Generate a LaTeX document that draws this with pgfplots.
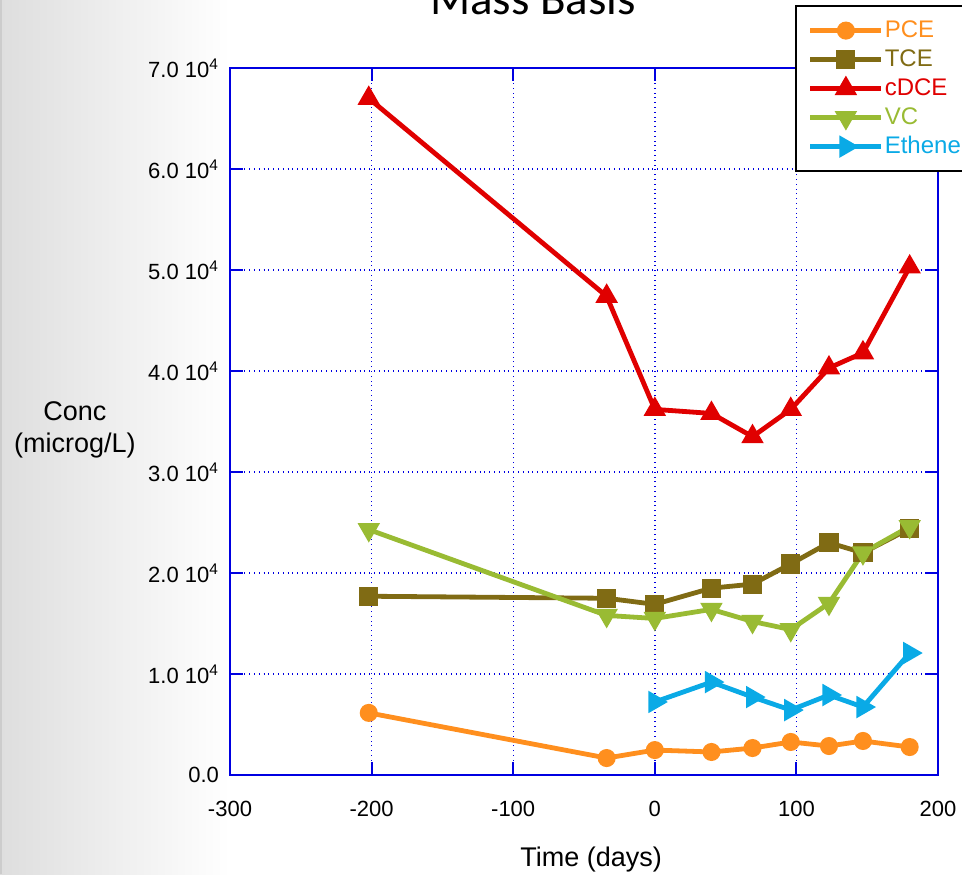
\documentclass[border=0pt]{standalone}
\usepackage{fontspec}
\setmainfont{Liberation Sans}
\newfontfamily\titlefont{Carlito}
\usepackage{pgfplots}
\pgfplotsset{compat=1.18}
\definecolor{cPCE}{RGB}{255,143,30}
\definecolor{cTCE}{RGB}{128,107,20}
\definecolor{cDCE}{RGB}{224,0,0}
\definecolor{cVC}{RGB}{153,187,51}
\definecolor{cEth}{RGB}{10,170,230}
\definecolor{axblue}{RGB}{0,0,225}
\begin{document}
\begin{tikzpicture}
\useasboundingbox (0,0) rectangle (481pt,437pt);
\clip (0,0) rectangle (481pt,437pt);
\shade[left color=black!13, right color=white] (0,0) rectangle (115pt,437pt);
\fill[black!20] (0,0) rectangle (1.2pt,437pt);
\node[font=\titlefont\fontsize{23.5}{26}\selectfont, anchor=base] at (266.5pt,429.5pt) {Mass Basis};
\begin{axis}[
  at={(115pt,49.5pt)}, anchor=south west,
  scale only axis, width=354pt, height=353.5pt,
  xmin=-300, xmax=200, ymin=0, ymax=70000,
  xtick={-300,-200,-100,0,100,200},
  xticklabels={-300,-200,-100,0,100,200},
  ytick={0,10000,20000,30000,40000,50000,60000,70000},
  yticklabels={0.0,1.0 10\textsuperscript{4},2.0 10\textsuperscript{4},3.0 10\textsuperscript{4},4.0 10\textsuperscript{4},5.0 10\textsuperscript{4},6.0 10\textsuperscript{4},7.0 10\textsuperscript{4}},
  scaled y ticks=false,
  grid=major,
  major grid style={axblue, dotted, line width=0.7pt},
  axis line style={axblue, line width=1pt},
  tick style={axblue, line width=1pt},
  major tick length=6.5pt,
  tick align=inside,
  tick pos=both,
  tick label style={font=\fontsize{11}{12}\selectfont},
  xticklabel style={yshift=-9.5pt},
  yticklabel style={xshift=-2pt},
  xlabel={Time (days)},
  xlabel style={font=\fontsize{13.5}{15}\selectfont, at={(axis description cs:0.51,0)}, anchor=base, yshift=-45.5pt},
  ylabel={Conc\\(microg/L)},
  ylabel style={font=\fontsize{13.5}{16}\selectfont, align=center, rotate=-90, at={(axis description cs:-0.219,0.488)}, anchor=center},
  legend style={at={(axis description cs:0.798,1.089)}, anchor=north west, draw=black, line width=1pt, fill=white,
    font=\fontsize{12}{14}\selectfont, inner sep=6pt, row sep=2pt,
    nodes={inner sep=0.5pt, text height=9pt, text depth=2.5pt}},
  legend cell align=left,
  legend image code/.code={\draw[mark repeat=2,mark phase=2,#1] plot coordinates {(0pt,0pt) (17.75pt,0pt) (35.5pt,0pt)};},
  every axis plot/.append style={line width=2.4pt},
]
\addplot[cPCE, mark=*, mark size=3.3pt, mark options={solid}] coordinates {
(-202,6150) (-34,1680) (0,2470) (40,2280) (69,2670) (96,3270) (123,2870) (147,3370) (180,2770)};
\addlegendentry{\textcolor{cPCE}{PCE}}
\addplot[cTCE, mark=square*, mark size=3.6pt, mark options={solid}] coordinates {
(-202,17700) (-34,17500) (0,16900) (40,18500) (69,18900) (96,20900) (123,23000) (147,22000) (180,24400)};
\addlegendentry{\textcolor{cTCE}{TCE}}
\addplot[cDCE, mark=triangle*, mark size=4.1pt, mark options={solid}] coordinates {
(-202,67000) (-34,47400) (0,36200) (40,35800) (69,33500) (96,36200) (123,40300) (147,41800) (180,50300)};
\addlegendentry{\textcolor{cDCE}{cDCE}}
\addplot[cVC, mark=triangle*, mark size=4.1pt, mark options={solid, rotate=180}] coordinates {
(-202,24300) (-34,15800) (0,15500) (40,16400) (69,15200) (96,14400) (123,17000) (147,22000) (180,24600)};
\addlegendentry{\textcolor{cVC}{VC}}
\addplot[cEth, mark=triangle*, mark size=4.1pt, mark options={solid, rotate=-90}] coordinates {
(0,7230) (40,9200) (69,7720) (96,6430) (123,7920) (147,6730) (180,12080)};
\addlegendentry{\textcolor{cEth}{Ethene}}
\end{axis}
\end{tikzpicture}
\end{document}
